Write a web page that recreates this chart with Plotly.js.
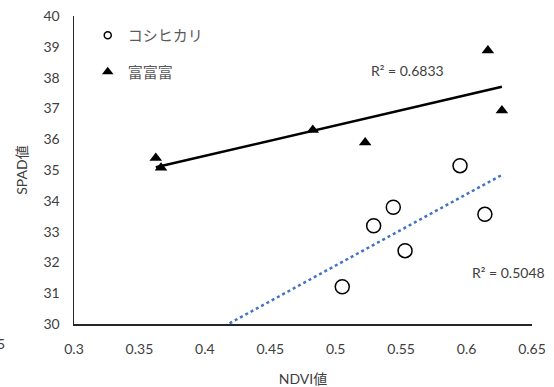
<!DOCTYPE html>
<html>
<head>
<meta charset="utf-8">
<script src="https://cdn.plot.ly/plotly-3.0.1.min.js"></script>
<style>html,body{margin:0;padding:0;background:#fff;}#chart{width:554px;height:387px;}</style>
</head>
<body>
<div id="chart"></div>
<script>
// Data
const koshiName = "コシヒカリ";
const koshiX = [0.505, 0.529, 0.544, 0.553, 0.595, 0.614];
const koshiY = [31.21, 33.19, 33.79, 32.38, 35.14, 33.56];

const fufuName = "富富富";
const fufuX = [0.3625, 0.3665, 0.4825, 0.5225, 0.6163, 0.627];
const fufuY = [35.39, 35.07, 36.30, 35.89, 38.88, 36.93];

const koshiR2 = "R² = 0.5048";
const fufuR2 = "R² = 0.6833";

const xTicks = [0.3, 0.35, 0.4, 0.45, 0.5, 0.55, 0.6, 0.65];
const yTicks = [30, 31, 32, 33, 34, 35, 36, 37, 38, 39, 40];

function linfit(xs, ys) {
  const n = xs.length;
  const mx = xs.reduce((a, b) => a + b, 0) / n;
  const my = ys.reduce((a, b) => a + b, 0) / n;
  let sxy = 0, sxx = 0;
  for (let i = 0; i < n; i++) { sxy += (xs[i] - mx) * (ys[i] - my); sxx += (xs[i] - mx) ** 2; }
  const m = sxy / sxx;
  return { m: m, b: my - m * mx };
}
const fk = linfit(koshiX, koshiY);
const ff = linfit(fufuX, fufuY);
const allX = koshiX.concat(fufuX);
const loAll = Math.min(...allX), hiAll = Math.max(...allX);
const loF = Math.min(...fufuX), hiF = Math.max(...fufuX);
const kLineX = [loAll, hiAll];
const fLineX = [loF, hiF];

const FONT = "Lato, 'Noto Sans CJK JP', sans-serif";
const TXT = "#404040";

const traces = [
  { x: kLineX, y: kLineX.map(v => fk.m * v + fk.b), mode: "lines", showlegend: false, hoverinfo: "skip",
    line: { color: "#4472C4", width: 2.5, dash: "dot" } },
  { x: fLineX, y: fLineX.map(v => ff.m * v + ff.b), mode: "lines", showlegend: false, hoverinfo: "skip",
    line: { color: "#000000", width: 2.5 } },
  { x: koshiX, y: koshiY, mode: "markers", name: koshiName, showlegend: false,
    marker: { symbol: "circle", size: 14, color: "#ffffff", line: { color: "#000000", width: 1.5 } } },
  { x: fufuX, y: fufuY, mode: "markers", name: fufuName, showlegend: false,
    marker: { symbol: "triangle-up", size: 11, color: "#000000" } },
  // legend entries
  { x: [null], y: [null], mode: "markers", name: koshiName, legendgroup: "a",
    marker: { symbol: "circle", size: 7, color: "#ffffff", line: { color: "#000000", width: 1.5 } } },
  { x: [null], y: [null], mode: "markers", name: fufuName, legendgroup: "b",
    marker: { symbol: "triangle-up", size: 10, color: "#000000" } }
];

const layout = {
  width: 554, height: 387,
  margin: { l: 74, r: 22, t: 16, b: 62.5, pad: 0 },
  paper_bgcolor: "#ffffff", plot_bgcolor: "#ffffff",
  font: { family: FONT, size: 14, color: TXT },
  showlegend: true,
  legend: { x: 0.03, y: 0.99, xanchor: "left", yanchor: "top", bgcolor: "rgba(0,0,0,0)",
    traceorder: "grouped", tracegroupgap: 14, font: { family: FONT, size: 15, color: "#595959" } },
  xaxis: {
    range: [0.3, 0.65], tickvals: xTicks, ticktext: xTicks.map(String),
    showgrid: false, zeroline: false, showline: true, linecolor: "#262626", linewidth: 1.5,
    ticks: "", ticklabelstandoff: 12, tickfont: { family: FONT, size: 14, color: TXT },
    title: { text: "NDVI値", font: { family: FONT, size: 14, color: TXT }, standoff: 18 }
  },
  yaxis: {
    range: [30, 40], tickvals: yTicks, ticktext: yTicks.map(String),
    showgrid: false, zeroline: false, showline: true, linecolor: "#262626", linewidth: 1.5,
    ticks: "", ticklabelstandoff: 10, tickfont: { family: FONT, size: 14, color: TXT },
    title: { text: "SPAD値", font: { family: FONT, size: 14, color: TXT }, standoff: 12 }
  },
  annotations: [
    { x: 0.5548, y: 38.22, xref: "x", yref: "y", text: fufuR2, showarrow: false,
      font: { family: FONT, size: 14, color: TXT } },
    { x: 0.632, y: 31.68, xref: "x", yref: "y", text: koshiR2, showarrow: false,
      font: { family: FONT, size: 14, color: TXT } },
    { x: (1 - 74) / 458, y: -(344 - 324.5) / 308.5, xref: "paper", yref: "paper", text: "5", showarrow: false,
      xanchor: "center", yanchor: "middle", font: { family: FONT, size: 14, color: TXT } }
  ]
};

Plotly.newPlot("chart", traces, layout, { staticPlot: true, displayModeBar: false });
</script>
</body>
</html>
